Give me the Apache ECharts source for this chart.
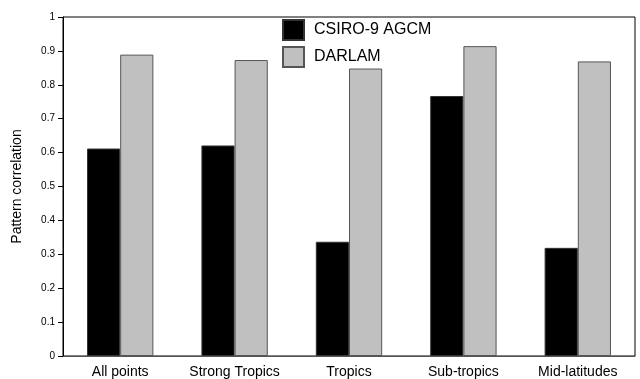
<!DOCTYPE html>
<html>
<head>
<meta charset="utf-8">
<script src="https://cdn.jsdelivr.net/npm/echarts@6/dist/echarts.min.js"></script>
<style>
html,body{margin:0;padding:0;background:#fff;}
#chart{width:640px;height:379px;}
</style>
</head>
<body>
<div id="chart"></div>
<script>
var categories = ['All points', 'Strong Tropics', 'Tropics', 'Sub-tropics', 'Mid-latitudes'];
var csiroValues = [0.612, 0.621, 0.337, 0.767, 0.319];
var darlamValues = [0.889, 0.873, 0.848, 0.914, 0.869];
var seriesNames = ['CSIRO-9 AGCM', 'DARLAM'];
var yTicks = [0, 0.1, 0.2, 0.3, 0.4, 0.5, 0.6, 0.7, 0.8, 0.9, 1];

var FONT = 'Liberation Sans';
var chart = echarts.init(document.getElementById('chart'), null, {renderer: 'canvas'});
chart.setOption({
  animation: false,
  backgroundColor: '#fff',
  textStyle: {fontFamily: FONT},
  grid: {left: 63, right: 5, top: 17, bottom: 23, show: true, borderColor: '#000', borderWidth: 1},
  legend: {
    orient: 'vertical',
    left: 282, top: 19,
    padding: 0,
    icon: 'rect',
    itemWidth: 21, itemHeight: 20, itemGap: 5,
    textStyle: {fontSize: 16, lineHeight: 20, color: '#000', fontFamily: FONT, padding: [0,0,0,5]},
    data: seriesNames
  },
  xAxis: {
    type: 'category',
    data: categories,
    axisLine: {show: true, lineStyle: {color: '#555', width: 1}},
    axisTick: {show: false},
    axisLabel: {color: '#000', fontSize: 14, margin: 9, fontFamily: FONT, interval: 0}
  },
  yAxis: {
    type: 'value',
    min: yTicks[0], max: yTicks[yTicks.length - 1], interval: 0.1,
    name: 'Pattern correlation',
    nameLocation: 'middle',
    nameGap: 39,
    nameTextStyle: {fontSize: 14, color: '#000', fontFamily: FONT},
    splitLine: {show: false},
    axisLine: {show: true, lineStyle: {color: '#000', width: 1}},
    axisTick: {show: true, length: 5, lineStyle: {color: '#000'}},
    axisLabel: {color: '#000', fontSize: 10, margin: 8, fontFamily: FONT}
  },
  series: [
    {
      name: seriesNames[0], type: 'bar', data: csiroValues,
      barGap: '0%', barCategoryGap: '42%',
      itemStyle: {color: '#000', borderColor: '#333', borderWidth: 1}
    },
    {
      name: seriesNames[1], type: 'bar', data: darlamValues,
      barGap: '0%', barCategoryGap: '42%',
      itemStyle: {color: '#c0c0c0', borderColor: '#555', borderWidth: 1}
    }
  ]
});
</script>
</body>
</html>
